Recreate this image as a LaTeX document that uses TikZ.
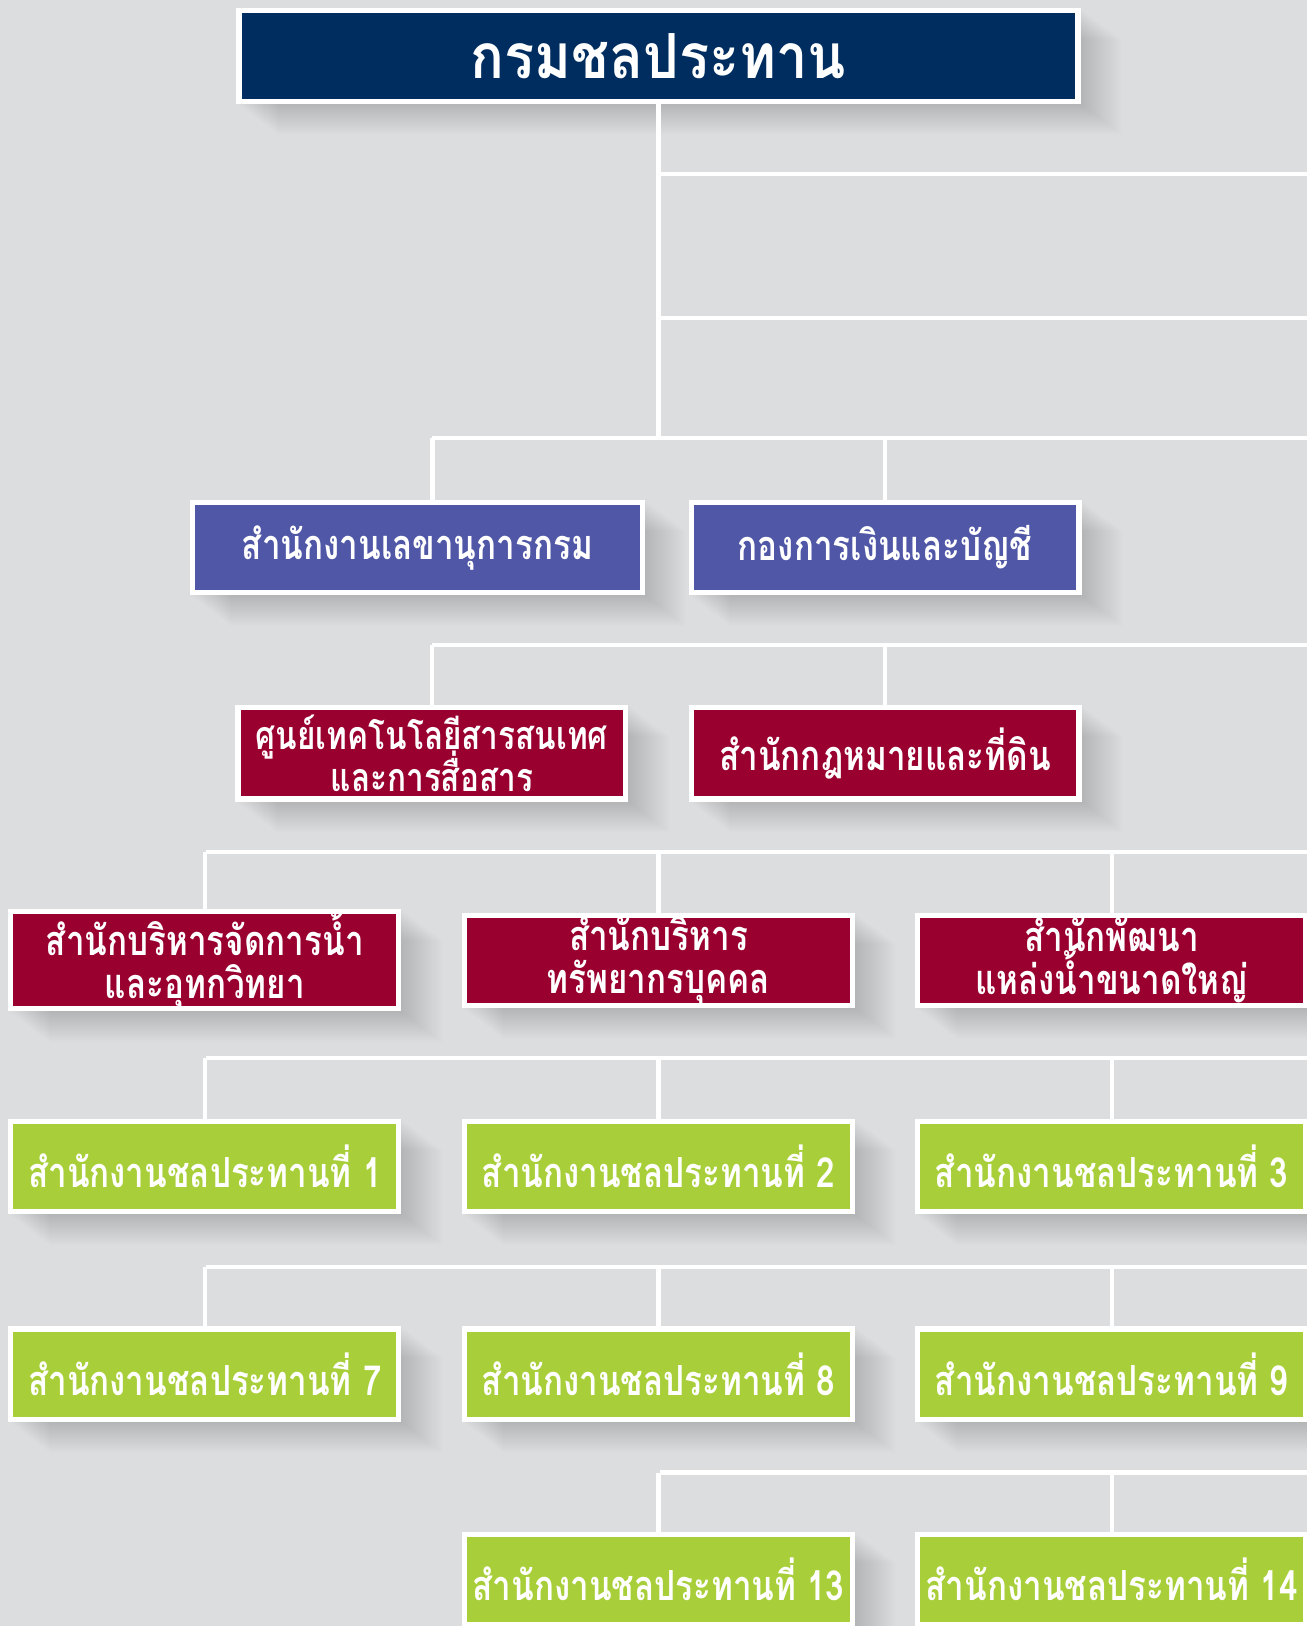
\documentclass[tikz,border=0pt]{standalone}
\usepackage{fontspec}
\setmainfont[Script=Thai]{Loma}
\newfontfamily\thaifont[Script=Thai,FakeStretch=0.8]{Loma}
\newfontfamily\titlefont[Script=Thai,FakeStretch=0.9]{Loma}
\usetikzlibrary{positioning,calc,backgrounds}
\definecolor{bggray}{HTML}{DCDDDF}
\definecolor{navy}{HTML}{002D5F}
\definecolor{unitblue}{HTML}{4F57A6}
\definecolor{crimson}{HTML}{990030}
\definecolor{leaf}{HTML}{A8CF3A}
\tikzset{
    unit/.style={draw=white,line width=5pt,text=white,align=center,inner sep=0pt,
        font=\thaifont\bfseries\fontsize{40}{41}\selectfont,
        execute at begin node={\lineskiplimit=-40pt\relax}},
    wide/.style={minimum width=374,minimum height=87},
    bus/.style={draw=white,line width=4pt}
}

\begin{document}
\begin{tikzpicture}[x=1pt,y=-1pt]
    \useasboundingbox (0,0) rectangle (1260,1568);

    % head of the department
    \node[unit,fill=navy,minimum width=809,minimum height=87,
        font=\titlefont\bfseries\fontsize{60}{64}\selectfont] (dept) at (635,54) {กรมชลประทาน};

    % second level
    \node[unit,fill=unitblue,minimum width=434,minimum height=87] (secretariat) at (402.5,528) {สำนักงานเลขานุการกรม};
    \node[unit,fill=unitblue,wide] (finance) at (853.5,528) {กองการเงินและบัญชี};

    % centres and bureaus
    \node[unit,fill=crimson,wide,minimum height=88,
        font=\thaifont\bfseries\fontsize{38}{41}\selectfont] (ict) at (416.5,726.5) {ศูนย์เทคโนโลยีสารสนเทศ\\และการสื่อสาร};
    \node[unit,fill=crimson,wide,minimum height=88] (legal) at (853.5,726.5) {สำนักกฎหมายและที่ดิน};
    \node[unit,fill=crimson,wide] (water) at (197.5,926) {สำนักบริหารจัดการน้ำ\\และอุทกวิทยา};
    \node[unit,fill=crimson,wide] (hr) at (635,926) {สำนักบริหาร\\ทรัพยากรบุคคล};
    \node[unit,fill=crimson,wide] (bigdev) at (1072,926) {สำนักพัฒนา\\แหล่งน้ำขนาดใหญ่};

    % regional irrigation offices
    \node[unit,fill=leaf,wide] (rio1) at (197.5,1125) {สำนักงานชลประทานที่ 1};
    \node[unit,fill=leaf,wide] (rio2) at (635,1125) {สำนักงานชลประทานที่ 2};
    \node[unit,fill=leaf,wide] (rio3) at (1072,1125) {สำนักงานชลประทานที่ 3};
    \node[unit,fill=leaf,wide] (rio7) at (197.5,1325) {สำนักงานชลประทานที่ 7};
    \node[unit,fill=leaf,wide] (rio8) at (635,1325) {สำนักงานชลประทานที่ 8};
    \node[unit,fill=leaf,wide] (rio9) at (1072,1325) {สำนักงานชลประทานที่ 9};
    \node[unit,fill=leaf,wide] (rio13) at (635,1523) {สำนักงานชลประทานที่ 13};
    \node[unit,fill=leaf,wide] (rio14) at (1072,1523) {สำนักงานชลประทานที่ 14};

    \coordinate (top1) at (636,168);
    \coordinate (top2) at (636,307);
    \coordinate (bus1) at (417,422);
    \coordinate (bus2) at (417,622);
    \coordinate (bus3) at (199,822);
    \coordinate (bus4) at (199,1020);
    \coordinate (bus5) at (199,1222);
    \coordinate (bus6) at (636,1420);
    \coordinate (edge) at (1270,0);

    \begin{pgfonlayer}{background}
        \fill[bggray] (0,0) rectangle (1260,1568);
        % long shadows
        \foreach \n in {dept,secretariat,finance,ict,legal,water,hr,bigdev,
                rio1,rio2,rio3,rio7,rio8,rio9,rio13,rio14}{
            \foreach \k in {1,...,40}{
                \fill[black,opacity=0.0045] ([shift={(\k,0.75*\k)}]\n.north west)
                    rectangle ([shift={(\k,0.75*\k)}]\n.south east);
            }
        }
        % connectors
        \draw[bus] (dept.south) -- (dept.south |- bus1);
        \draw[bus] (top1) -- (top1 -| edge);
        \draw[bus] (top2) -- (top2 -| edge);
        \draw[bus] (bus1) -- (bus1 -| edge);
        \draw[bus] (bus1) -- (bus1 |- secretariat.north);
        \draw[bus] (finance.north |- bus1) -- (finance.north);
        \draw[bus] (bus2) -- (bus2 -| edge);
        \draw[bus] (ict.north |- bus2) -- (ict.north);
        \draw[bus] (legal.north |- bus2) -- (legal.north);
        \draw[bus] (bus3) -- (bus3 -| edge);
        \draw[bus] (bus4) -- (bus4 -| edge);
        \draw[bus] (bus5) -- (bus5 -| edge);
        \draw[bus] (bus6) -- (bus6 -| edge);
        \foreach \a/\b in {water/bus3,hr/bus3,bigdev/bus3,rio1/bus4,rio2/bus4,rio3/bus4,
                rio7/bus5,rio8/bus5,rio9/bus5,rio13/bus6,rio14/bus6}{
            \draw[bus] (\a.north |- \b) -- (\a.north);
        }
    \end{pgfonlayer}
\end{tikzpicture}
\end{document}
